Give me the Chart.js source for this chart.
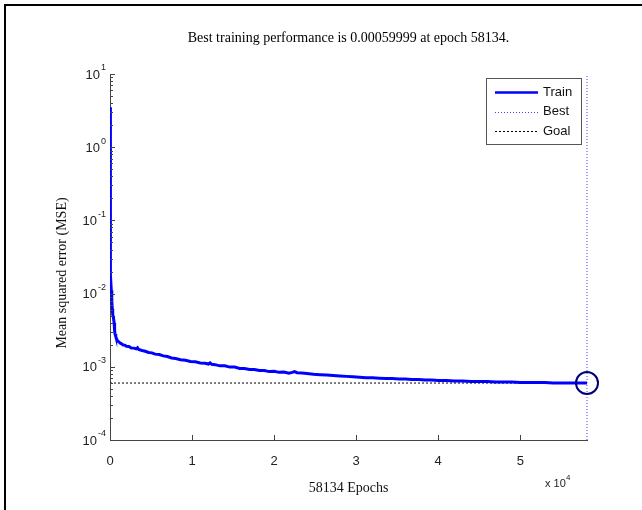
<!DOCTYPE html>
<html>
<head>
<meta charset="utf-8">
<script src="https://cdn.jsdelivr.net/npm/chart.js@4.4.1/dist/chart.umd.min.js"></script>
<style>
  html, body { margin: 0; padding: 0; background: #fff; overflow: hidden; }
  #wrap { position: relative; width: 642px; height: 510px; }
  #frame { position: absolute; left: 4px; top: 4px; width: 700px; height: 600px;
           border-top: 2px solid #000; border-left: 2px solid #000; pointer-events: none; }
  canvas { display: block; }
</style>
</head>
<body>
<div id="wrap">
  <canvas id="c" width="642" height="510"></canvas>
  <div id="frame"></div>
</div>
<script>
// ---------------- data ----------------
const titleText = 'Best training performance is 0.00059999 at epoch 58134.';
const xTitle = '58134 Epochs';
const yTitle = 'Mean squared error (MSE)';
const xTickValues = [0, 10000, 20000, 30000, 40000, 50000];
const yDecades = [-4, -3, -2, -1, 0, 1];
const totalEpochs = 58134;
const bestEpoch = 58134;
const bestPerf = 0.00059999;
const goalValue = 0.0006;
const yMin = 1e-4, yMax = 10;

const epochs = [0, 5, 15, 30, 50, 80, 120, 160, 200, 240, 280, 330, 380, 430, 500, 560, 620, 700, 800, 900,
  1000, 1150, 1300, 1450, 1600, 1800, 2000, 2300, 2600, 2900, 3200, 3350, 3500, 3900, 4300, 4700, 5100, 5500,
  6000, 6500, 7000, 7500, 8000, 8600, 9200, 9800, 10400, 11000, 11600, 12000, 12200, 12400, 12800, 13400, 14000,
  14600, 15200, 15800, 16400, 17000, 17600, 18200, 18800, 19400, 20000, 20600, 21200, 21800, 22200,
  22500, 22800, 23400, 24000, 24800, 25600, 26400, 27200, 28000, 28800, 29600, 30400, 31200, 32000,
  32800, 33600, 34400, 35200, 36000, 36800, 37600, 38400, 39200, 40000, 41000, 42000, 43000, 44000,
  45000, 46000, 47000, 48000, 49000, 50000, 51000, 52000, 53000, 54000, 55000, 56000, 57000, 58134];
const trainMSE = [3.5, 2.0, 0.9, 0.3, 0.1, 0.04, 0.018, 0.011, 0.0088, 0.0080, 0.0062, 0.0052, 0.0049, 0.0046,
  0.0040, 0.0031, 0.0028, 0.0026, 0.00240, 0.00228,
  0.00222, 0.00216, 0.00209, 0.00205, 0.00199, 0.00198, 0.00191, 0.00189, 0.00181, 0.00180, 0.00176, 0.00182, 0.00172,
  0.00167, 0.00163, 0.00157, 0.00155, 0.00149,
  0.00147, 0.00141, 0.00138, 0.00132, 0.00130, 0.00125, 0.00123, 0.00118, 0.00117, 0.00113, 0.00112, 0.00109, 0.00113, 0.00108,
  0.00107, 0.00103, 0.00103,
  0.00099, 0.00099, 0.00095, 0.00095, 0.00092, 0.00092, 0.00089, 0.00089, 0.00086, 0.00087, 0.00084, 0.00085,
  0.00082, 0.00084,
  0.00086, 0.00083, 0.00082, 0.00081, 0.00079, 0.00078, 0.00077, 0.00076, 0.00075, 0.00074, 0.00073, 0.00072,
  0.00071, 0.00071,
  0.00070, 0.00069, 0.00069, 0.00068, 0.00068, 0.00067, 0.00067, 0.00066, 0.00066, 0.00065, 0.00065, 0.00064,
  0.00064, 0.00063,
  0.00063, 0.00063, 0.00062, 0.00062, 0.00062, 0.00061, 0.00061, 0.00061, 0.00061, 0.00060, 0.00060, 0.00060,
  0.00060, 0.00059999];

const legendLabels = ['Train', 'Best', 'Goal'];

// ---------------- helpers ----------------
const sansFont = "'Liberation Sans', Arial, sans-serif";
const serifFont = "'Liberation Serif', 'Times New Roman', serif";

const decor = {
  id: 'matlabDecor',
  afterDraw(chart) {
    const ctx = chart.ctx;
    const xs = chart.scales.x, ys = chart.scales.y;
    const ca = chart.chartArea;
    ctx.save();
    ctx.strokeStyle = '#444';
    ctx.lineWidth = 1;
    ctx.setLineDash([]);
    // y ticks (inward)
    ctx.beginPath();
    yDecades.forEach(e => {
      const yp = Math.round(ys.getPixelForValue(Math.pow(10, e))) + 0.5;
      ctx.moveTo(ca.left, yp); ctx.lineTo(ca.left + 5, yp);
      if (e < yDecades[yDecades.length - 1]) {
        for (let k = 2; k <= 9; k++) {
          const ym = Math.round(ys.getPixelForValue(k * Math.pow(10, e))) + 0.5;
          ctx.moveTo(ca.left, ym); ctx.lineTo(ca.left + 3, ym);
        }
      }
    });
    // x ticks (inward)
    xTickValues.forEach(v => {
      const xp = Math.round(xs.getPixelForValue(v)) + 0.5;
      ctx.moveTo(xp, ca.bottom); ctx.lineTo(xp, ca.bottom - 5);
    });
    ctx.stroke();

    // y tick labels: 10 with superscript exponent
    ctx.fillStyle = '#222';
    ctx.textBaseline = 'middle';
    yDecades.forEach(e => {
      const yp = ys.getPixelForValue(Math.pow(10, e));
      const exp = String(e);
      ctx.font = '9px ' + sansFont;
      const ew = ctx.measureText(exp).width;
      ctx.textAlign = 'left';
      const ex = 106 - ew;
      ctx.fillText(exp, ex, yp - 6);
      ctx.font = '13px ' + sansFont;
      ctx.textAlign = 'right';
      ctx.fillText('10', ex - 1, yp + 1);
    });

    // y axis title (rotated)
    ctx.save();
    ctx.translate(62, 273);
    ctx.rotate(-Math.PI / 2);
    ctx.textAlign = 'center';
    ctx.textBaseline = 'middle';
    ctx.font = '14px ' + serifFont;
    ctx.fillStyle = '#111';
    ctx.fillText(yTitle, 0, 0);
    ctx.restore();

    // x 10^4 multiplier
    ctx.fillStyle = '#222';
    ctx.textBaseline = 'alphabetic';
    ctx.textAlign = 'left';
    ctx.font = '11px ' + sansFont;
    ctx.fillText('x 10', 545, 487);
    ctx.font = '8px ' + sansFont;
    ctx.fillText('4', 566, 480);

    // legend
    const lx = 486, ly = 78, lw = 95, lh = 66;
    ctx.fillStyle = '#fff';
    ctx.fillRect(lx, ly, lw, lh);
    ctx.strokeStyle = '#555';
    ctx.lineWidth = 1;
    ctx.strokeRect(lx + 0.5, ly + 0.5, lw, lh);
    ctx.font = '13px ' + sansFont;
    ctx.textBaseline = 'middle';
    legendLabels.forEach((lab, i) => {
      const ds = chart.data.datasets.find(d => d.label === lab);
      const yy = 92 + i * 19.5;
      ctx.beginPath();
      ctx.strokeStyle = ds.borderColor;
      ctx.lineWidth = Math.min(ds.borderWidth, 2.4);
      ctx.setLineDash(ds.borderDash || []);
      ctx.moveTo(495, Math.round(yy) + 0.5);
      ctx.lineTo(538, Math.round(yy) + 0.5);
      ctx.stroke();
      ctx.setLineDash([]);
      ctx.fillStyle = '#111';
      ctx.fillText(lab, 543, yy);
    });
    ctx.restore();
  }
};

const trainPts = epochs.map((e, i) => ({x: e, y: trainMSE[i]}));

new Chart(document.getElementById('c'), {
  type: 'line',
  data: {
    datasets: [
      { label: 'Train', data: trainPts, borderColor: '#0000ff', borderWidth: 3,
        pointRadius: 0, tension: 0, fill: false, order: 1 },
      { label: 'Best', data: [{x: bestEpoch, y: yMin}, {x: bestEpoch, y: yMax}], borderColor: '#4040ff',
        borderWidth: 1, borderDash: [1, 2], pointRadius: 0, fill: false, order: 3, clip: false },
      { label: 'Goal', data: [{x: 0, y: goalValue}, {x: totalEpochs, y: goalValue}], borderColor: '#000000',
        borderWidth: 1, borderDash: [2, 2], pointRadius: 0, fill: false, order: 2 },
      { label: 'BestPoint', data: [{x: bestEpoch, y: bestPerf}], showLine: false, pointRadius: 11,
        pointHoverRadius: 11, pointBorderColor: '#00007a', pointBackgroundColor: 'rgba(0,0,0,0)',
        pointBorderWidth: 2, borderColor: '#00007a', order: 0, clip: false }
    ]
  },
  options: {
    responsive: false,
    devicePixelRatio: 1,
    animation: false,
    layout: { padding: { left: 0, right: 55, top: 0, bottom: 0 } },
    plugins: {
      legend: { display: false },
      tooltip: { enabled: false },
      title: {
        display: true, text: titleText, color: '#000', fullSize: false,
        font: { family: serifFont, size: 14, weight: 'normal', lineHeight: 1.2 },
        padding: { top: 30, bottom: 27.2 }
      }
    },
    scales: {
      x: {
        type: 'linear', min: 0, max: totalEpochs,
        grid: { display: false },
        border: { display: true, color: '#444', width: 1 },
        afterBuildTicks: s => { s.ticks = xTickValues.map(v => ({value: v})); },
        afterFit: s => { s.height = 70; },
        ticks: { autoSkip: false, includeBounds: false, padding: 6, color: '#222', maxRotation: 0,
                 font: { family: sansFont, size: 13 },
                 callback: v => String(v / 10000) },
        title: { display: true, text: xTitle, color: '#111',
                 font: { family: serifFont, size: 14, weight: 'normal', lineHeight: 1.2 },
                 padding: { top: 0, bottom: 13 } }
      },
      y: {
        type: 'logarithmic', min: yMin, max: yMax,
        grid: { display: false },
        border: { display: true, color: '#444', width: 1 },
        afterBuildTicks: s => { s.ticks = yDecades.map(e => ({value: Math.pow(10, e)})); },
        afterFit: s => { s.width = 110; },
        ticks: { display: false },
        title: { display: false, text: yTitle }
      }
    }
  },
  plugins: [decor]
});
</script>
</body>
</html>
